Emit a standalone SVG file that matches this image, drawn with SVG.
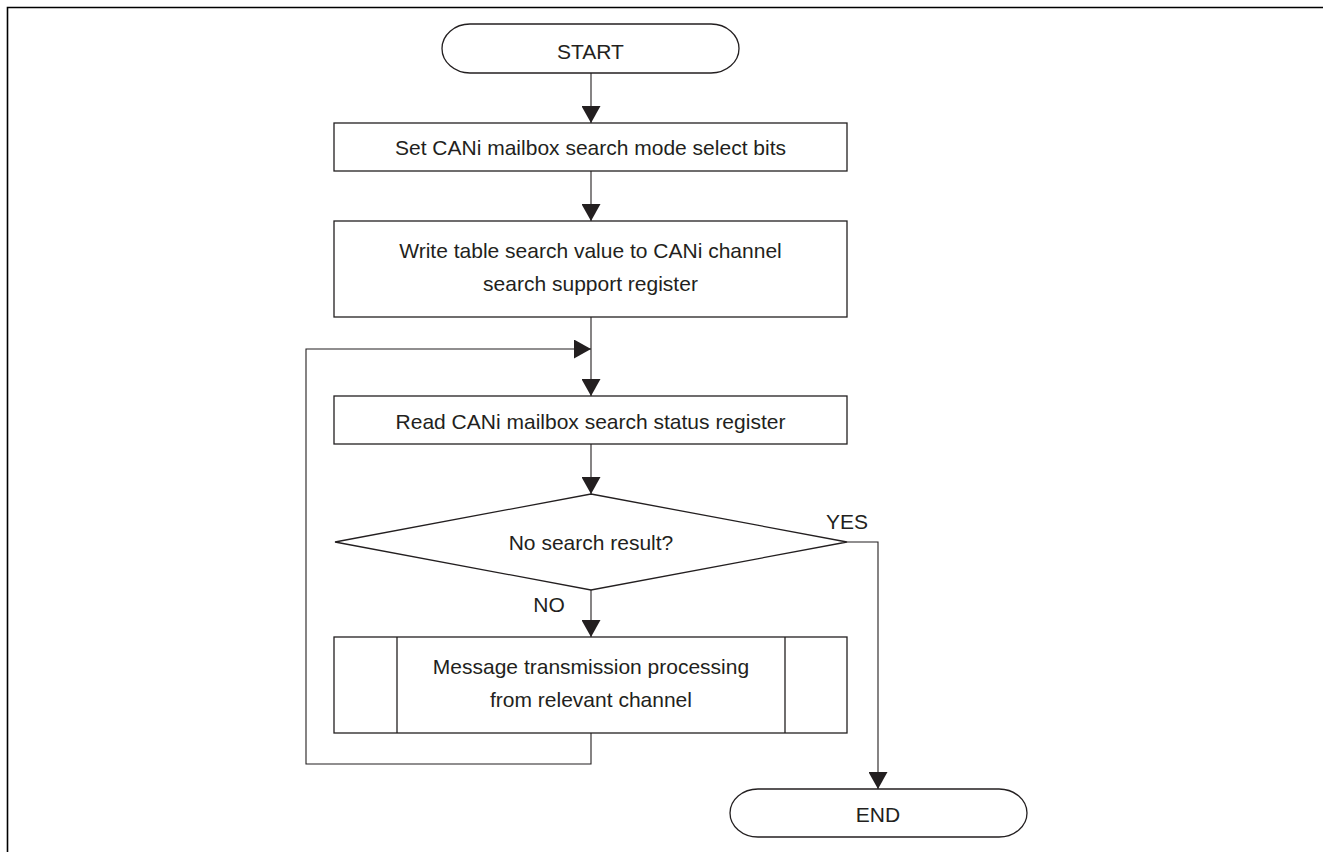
<svg xmlns="http://www.w3.org/2000/svg" width="1323" height="852" viewBox="0 0 1323 852">
<style>
.shape{fill:#fff;stroke:#231f20;stroke-width:1.3}
.conn{fill:none;stroke:#231f20;stroke-width:1.1}
.txt{font-family:"Liberation Sans",Arial,sans-serif;font-size:21px;fill:#231f20;text-anchor:middle}
.frame{fill:none;stroke:#000;stroke-width:1.6}
</style>
<defs>
<marker id="arr" markerUnits="userSpaceOnUse" markerWidth="17" markerHeight="19" viewBox="0 0 17 19" refX="17" refY="9.5" orient="auto">
<path d="M0,0 L17,9.5 L0,19 z" fill="#231f20"/>
</marker>
</defs>
<rect width="1323" height="852" fill="#fff"/>
<path class="frame" d="M7.5,852 V7.5 H1323"/>
<g id="connectors">
<path class="conn" d="M591,73 V123" marker-end="url(#arr)"/>
<path class="conn" d="M591,171 V221" marker-end="url(#arr)"/>
<path class="conn" d="M591,317 V396" marker-end="url(#arr)"/>
<path class="conn" d="M591,444 V494" marker-end="url(#arr)"/>
<path class="conn" d="M591,590 V637" marker-end="url(#arr)"/>
<path class="conn" d="M847,542 H878 V789" marker-end="url(#arr)"/>
<path class="conn" d="M591,733 V764 H306 V349 H591" marker-end="url(#arr)"/>
<text class="txt" x="847" y="529">YES</text>
<text class="txt" x="549" y="612">NO</text>
</g>
<g id="start">
<rect class="shape" x="442" y="24" width="297" height="49" rx="28" ry="24.5"/>
<text class="txt" x="590.5" y="58.5">START</text>
</g>
<g id="set-bits">
<rect class="shape" x="334" y="123" width="513" height="48"/>
<text class="txt" x="590.5" y="155">Set CANi mailbox search mode select bits</text>
</g>
<g id="write-search">
<rect class="shape" x="334" y="221" width="513" height="96"/>
<text class="txt" x="590.5" y="257.5">Write table search value to CANi channel</text>
<text class="txt" x="590.5" y="291">search support register</text>
</g>
<g id="read-status">
<rect class="shape" x="334" y="396" width="513" height="48"/>
<text class="txt" x="590.5" y="429">Read CANi mailbox search status register</text>
</g>
<g id="decision">
<polygon class="shape" points="591,494 847,542 591,590 335,542"/>
<text class="txt" x="591" y="550">No search result?</text>
</g>
<g id="process">
<rect class="shape" x="334" y="637" width="513" height="96"/>
<line class="shape" x1="397" y1="637" x2="397" y2="733"/>
<line class="shape" x1="785" y1="637" x2="785" y2="733"/>
<text class="txt" x="591" y="673.5">Message transmission processing</text>
<text class="txt" x="591" y="707">from relevant channel</text>
</g>
<g id="end">
<rect class="shape" x="730" y="789" width="297" height="48" rx="28" ry="24"/>
<text class="txt" x="878" y="822">END</text>
</g>
</svg>
